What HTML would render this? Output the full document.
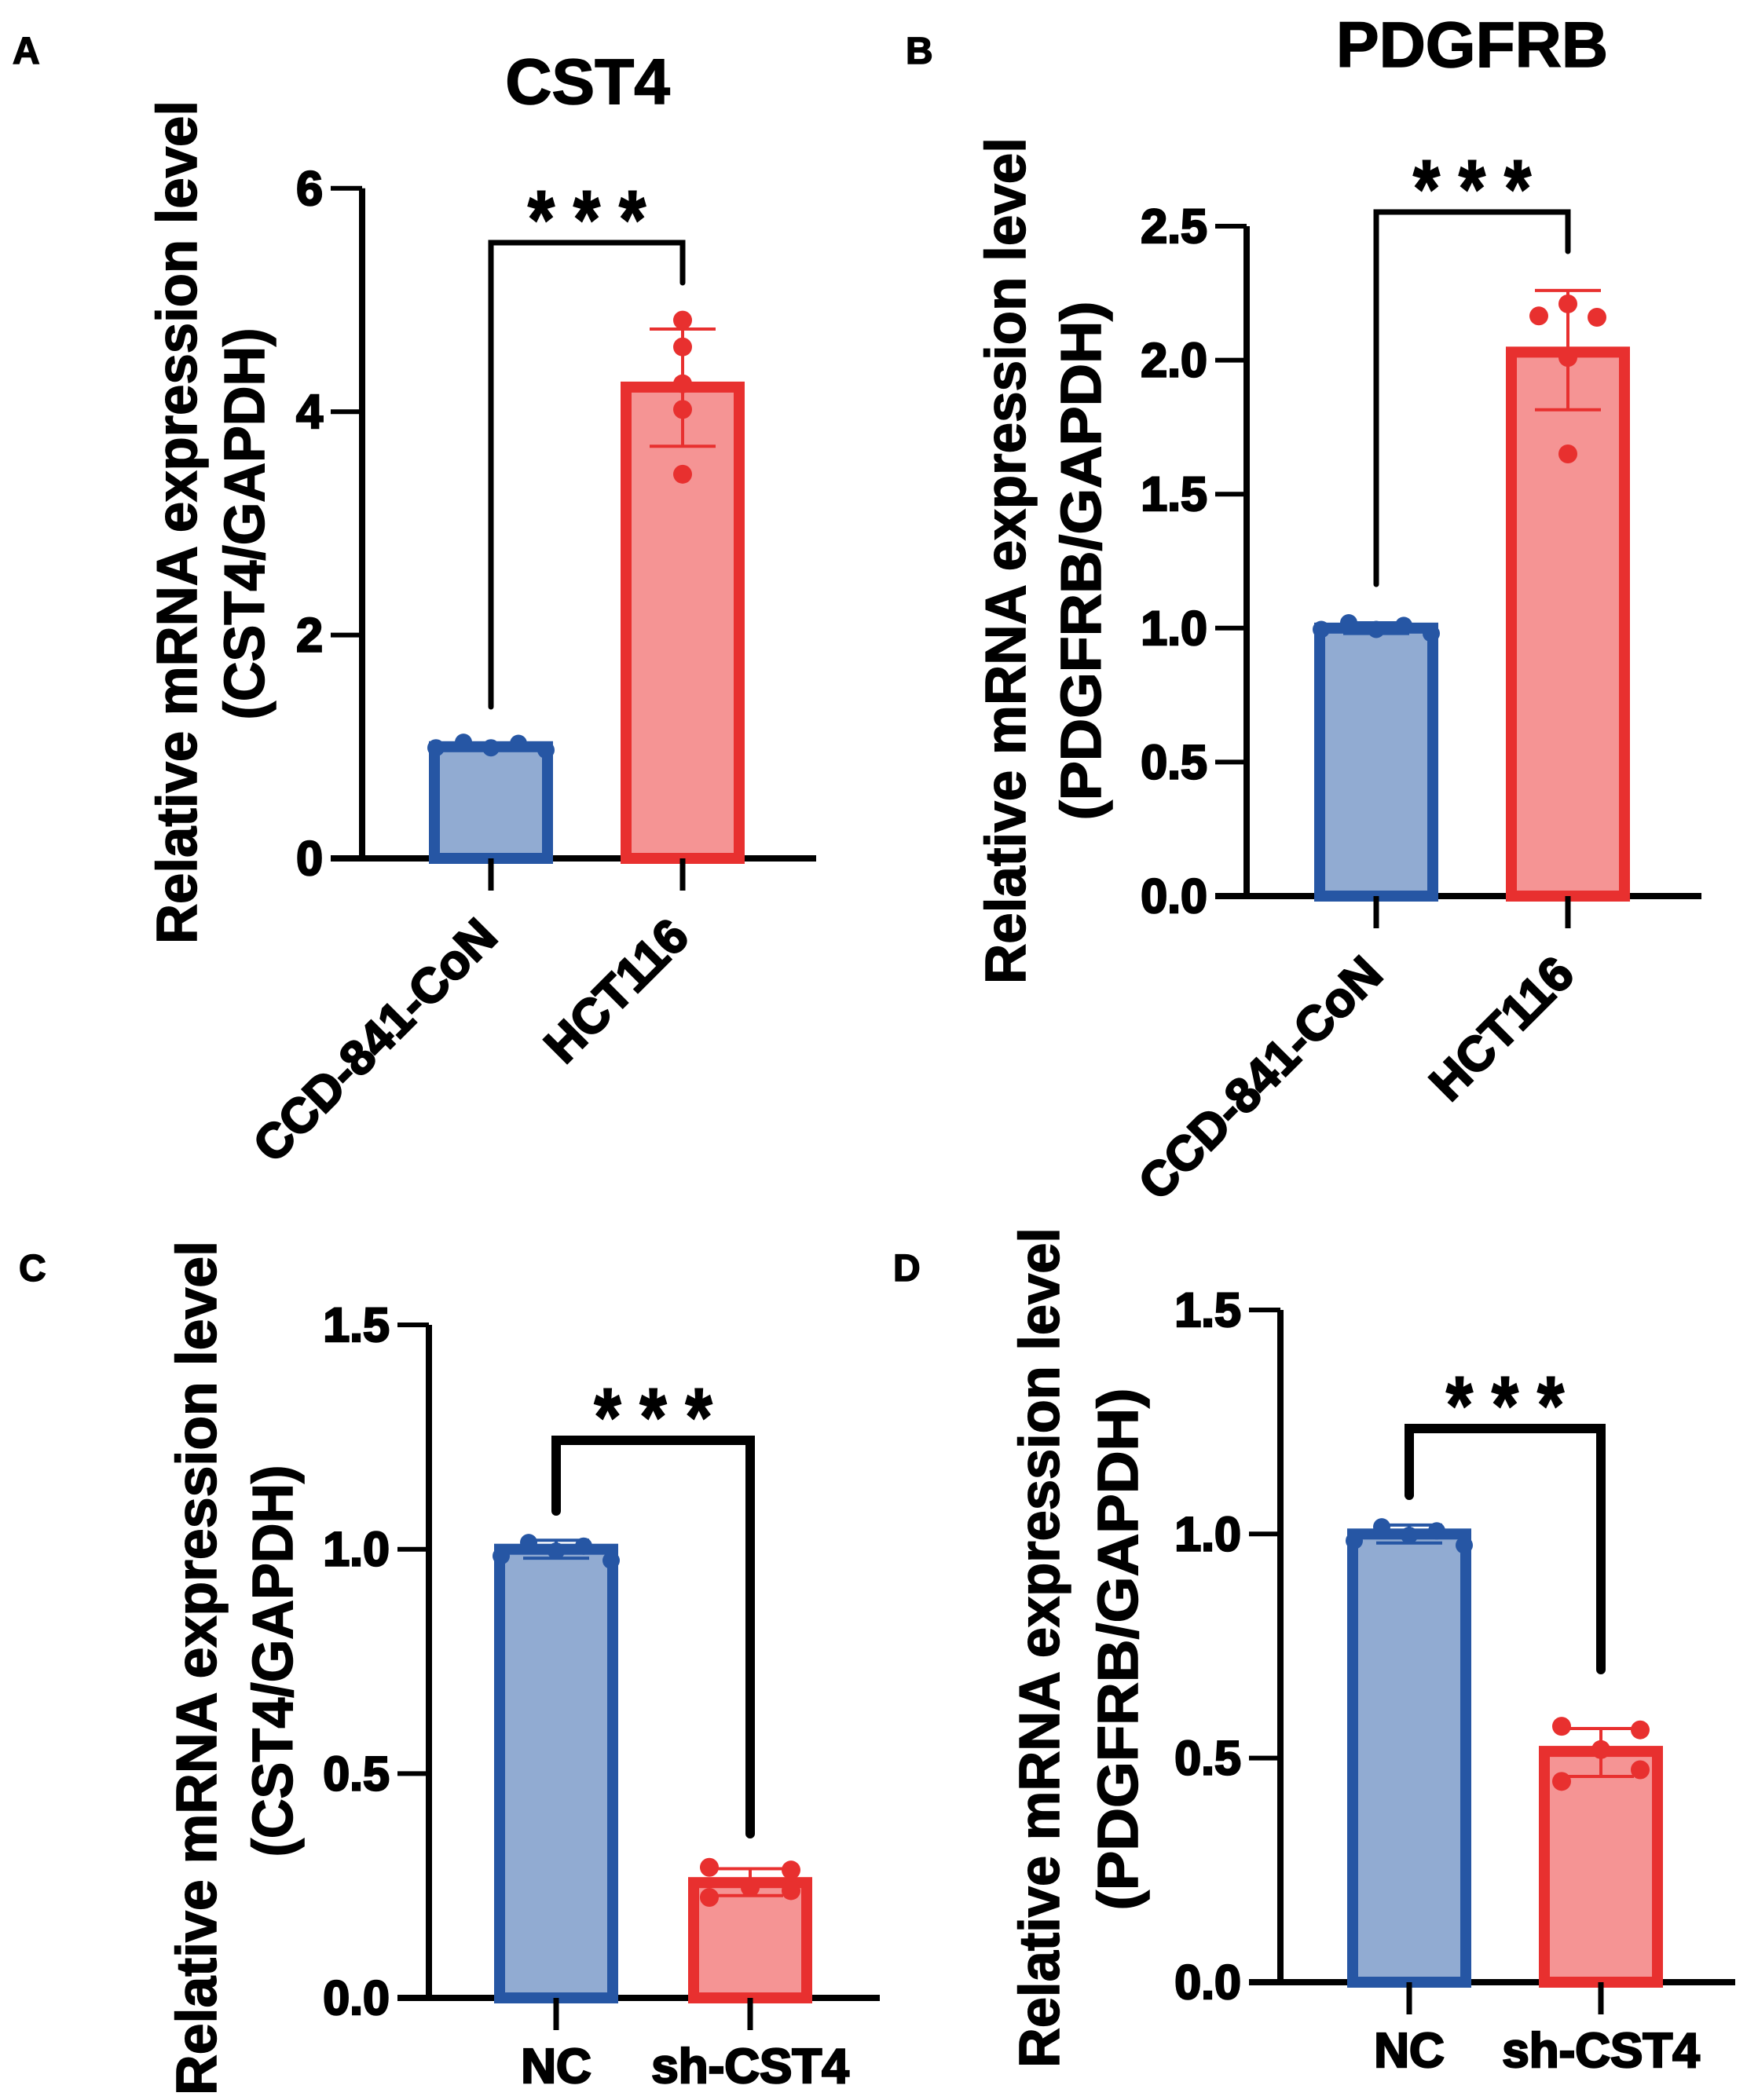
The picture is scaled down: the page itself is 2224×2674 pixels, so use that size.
<!DOCTYPE html>
<html><head><meta charset="utf-8"><style>
html,body{margin:0;padding:0;background:#fff;}
svg{display:block;font-family:"Liberation Sans",Arial,sans-serif;font-weight:bold;}
svg text{stroke:#000;stroke-width:1.5px;}
</style></head><body>
<svg id="fig" width="2224" height="2674" viewBox="0 0 2224 2674" xmlns="http://www.w3.org/2000/svg">
<rect x="0" y="0" width="2224" height="2674" fill="#fff"/>
<text x="16" y="81" font-size="48">A</text>
<text x="1153" y="81" font-size="48">B</text>
<text x="24" y="1631" font-size="48">C</text>
<text x="1137" y="1631" font-size="48">D</text>
<text x="748" y="132" font-size="82" text-anchor="middle">CST4</text>
<text x="1874" y="85" font-size="82" text-anchor="middle">PDGFRB</text>
</svg>
<script>
// ---------- data ----------
const catsAB = ['CCD-841-CoN', 'HCT116'];
const catsCD = ['NC', 'sh-CST4'];

const aMeans = [1.0, 4.22];
const aErrLow = [0.97, 3.69];
const aErrHigh = [1.03, 4.74];
const aPtsBlue = [0.99, 1.04, 0.99, 1.03, 0.97];
const aPtsRed = [4.82, 4.58, 4.25, 4.02, 3.44];
const aTicks = [0, 2, 4, 6];
const aTickLabels = ['0', '2', '4', '6'];

const bMeans = [1.0, 2.03];
const bErrLow = [0.98, 1.815];
const bErrHigh = [1.02, 2.26];
const bPtsBlue = [0.995, 1.02, 0.995, 1.01, 0.98];
const bPtsRed = [2.165, 2.21, 2.16, 2.01, 1.65];
const bTicks = [0, 0.5, 1.0, 1.5, 2.0, 2.5];
const bTickLabels = ['0.0', '0.5', '1.0', '1.5', '2.0', '2.5'];

const cMeans = [1.0, 0.257];
const cErrLow = [0.98, 0.228];
const cErrHigh = [1.02, 0.288];
const cPtsBlue = [0.985, 1.015, 0.996, 1.007, 0.975];
const cPtsRed = [0.291, 0.285, 0.246, 0.224, 0.239];
const cTicks = [0, 0.5, 1.0, 1.5];
const cTickLabels = ['0.0', '0.5', '1.0', '1.5'];

const dMeans = [1.0, 0.515];
const dErrLow = [0.98, 0.459];
const dErrHigh = [1.02, 0.566];
const dPtsBlue = [0.985, 1.016, 0.997, 1.007, 0.975];
const dPtsRed = [0.571, 0.563, 0.519, 0.474, 0.448];
const dTicks = [0, 0.5, 1.0, 1.5];
const dTickLabels = ['0.0', '0.5', '1.0', '1.5'];

// ---------- drawing ----------
const NS = 'http://www.w3.org/2000/svg';
const svg = document.getElementById('fig');
function mk(tag, attrs) {
  const e = document.createElementNS(NS, tag);
  for (const k in attrs) e.setAttribute(k, attrs[k]);
  svg.appendChild(e);
  return e;
}
const BLUE = '#2656a4', BLUEF = '#91abd2', RED = '#e8302f', REDF = '#f59494';

function drawPanel(p) {
  const yS = v => p.y0 - v * p.ppu;
  let e = mk('line', {x1: p.ax, y1: yS(p.ticks[p.ticks.length - 1]), x2: p.ax, y2: p.y0, stroke: '#000', 'stroke-width': 8});
  
  
  e = mk('line', {x1: p.ax - 40, y1: p.y0, x2: p.axEnd, y2: p.y0, stroke: '#000', 'stroke-width': 8});
  
  
  p.ticks.forEach((t, i) => {
    const y = yS(t);
    const tl = mk('line', {x1: p.ax - 40, y1: y, x2: p.ax, y2: y, stroke: '#000', 'stroke-width': 6});
    
    
    const tx = mk('text', {x: p.ax - 50, y: y + 21, 'font-size': 61, 'text-anchor': 'end', style: 'stroke-width:2.5px'});
    tx.textContent = p.tickLabels[i];
    
    
  });
  const fills = [BLUEF, REDF], strokes = [BLUE, RED];
  p.means.forEach((m, i) => {
    const cx = p.cx[i];
    const r = mk('rect', {x: cx - 72, y: yS(m), width: 144, height: p.y0 - yS(m), fill: fills[i], stroke: strokes[i], 'stroke-width': 14});
    
    
    const tk = mk('line', {x1: cx, y1: p.y0, x2: cx, y2: p.y0 + 41, stroke: '#000', 'stroke-width': 7});
    
    
    const yl = yS(p.errLow[i]), yh = yS(p.errHigh[i]);
    const eb = mk('path', {d: `M${cx} ${yl}V${yh}M${cx - 42} ${yh}H${cx + 42}M${cx - 42} ${yl}H${cx + 42}`, stroke: strokes[i], 'stroke-width': 4, fill: 'none'});
    
    
    let lab;
    if (p.rotated) {
      lab = mk('text', {x: 0, y: 0, 'font-size': 62, 'text-anchor': 'end', style: 'stroke-width:2.5px', transform: `translate(${cx + 11},${p.y0 + 103}) rotate(-45)`});
    } else {
      lab = mk('text', {x: cx, y: p.y0 + 108, 'font-size': 62, 'text-anchor': 'middle', style: 'stroke-width:2.5px'});
    }
    lab.textContent = p.cats[i];
    
    
  });
  p.ptsBlue.forEach((v, j) => {
    const c = mk('circle', {cx: p.cx[0] + p.blueOff[j], cy: yS(v), r: 11, fill: BLUE});
    
    
  });
  p.ptsRed.forEach((v, j) => {
    const c = mk('circle', {cx: p.cx[1] + p.redOff[j], cy: yS(v), r: 12, fill: RED});
    
    
  });
  const br = mk('path', {d: `M${p.cx[0]} ${p.brL}V${p.brTop}H${p.cx[1]}V${p.brR}`, stroke: '#000', 'stroke-width': p.brW, fill: 'none', 'stroke-linecap': 'round'});
  
  
  const st = mk('text', {x: (p.cx[0] + p.cx[1]) / 2, y: p.brTop + 6, 'font-size': 104, 'text-anchor': 'middle', textLength: 150, lengthAdjust: 'spacingAndGlyphs', style: 'stroke-width:2px'});
  st.textContent = '* * *';
  
  
  const t1 = mk('text', {x: 0, y: 0, 'font-size': 72, 'text-anchor': 'middle', textLength: p.l1.len, lengthAdjust: 'spacingAndGlyphs', transform: `translate(${p.l1.x},${p.l1.cy}) rotate(-90)`});
  t1.textContent = 'Relative mRNA expression level';
  
  
  const t2 = mk('text', {x: 0, y: 0, 'font-size': 72, 'text-anchor': 'middle', textLength: p.l2.len, lengthAdjust: 'spacingAndGlyphs', transform: `translate(${p.l2.x},${p.l2.cy}) rotate(-90)`});
  t2.textContent = p.l2.text;
  
  
}

const off5 = [-70, -35, 0, 35, 70];
drawPanel({id: 'panel-a', ax: 461, y0: 1093, ppu: 142.2, axEnd: 1039, cx: [625, 869], cats: catsAB, rotated: true,
  means: aMeans, errLow: aErrLow, errHigh: aErrHigh, ptsBlue: aPtsBlue, ptsRed: aPtsRed, ticks: aTicks, tickLabels: aTickLabels,
  blueOff: off5, redOff: [0, 0, 0, 0, 0], brTop: 309, brL: 900, brR: 360, brW: 7,
  l1: {x: 250, cy: 665, len: 1074}, l2: {x: 336, cy: 667, len: 499, text: '(CST4/GAPDH)'}});
drawPanel({id: 'panel-b', ax: 1587, y0: 1141, ppu: 341.2, axEnd: 2166, cx: [1752, 1996], cats: catsAB, rotated: true,
  means: bMeans, errLow: bErrLow, errHigh: bErrHigh, ptsBlue: bPtsBlue, ptsRed: bPtsRed, ticks: bTicks, tickLabels: bTickLabels,
  blueOff: off5, redOff: [-37, 0, 37, 0, 0], brTop: 270, brL: 744, brR: 320, brW: 7,
  l1: {x: 1305, cy: 714, len: 1078}, l2: {x: 1401, cy: 714, len: 661, text: '(PDGFRB/GAPDH)'}});
drawPanel({id: 'panel-c', ax: 546, y0: 2544, ppu: 571.3, axEnd: 1120, cx: [708, 955], cats: catsCD, rotated: false,
  means: cMeans, errLow: cErrLow, errHigh: cErrHigh, ptsBlue: cPtsBlue, ptsRed: cPtsRed, ticks: cTicks, tickLabels: cTickLabels,
  blueOff: off5, redOff: [-52, 52, 0, -52, 52], brTop: 1834, brL: 1924, brR: 2335, brW: 12,
  l1: {x: 275, cy: 2124, len: 1088}, l2: {x: 372, cy: 2115, len: 499, text: '(CST4/GAPDH)'}});
drawPanel({id: 'panel-d', ax: 1630, y0: 2524, ppu: 570.7, axEnd: 2209, cx: [1794, 2038], cats: catsCD, rotated: false,
  means: dMeans, errLow: dErrLow, errHigh: dErrHigh, ptsBlue: dPtsBlue, ptsRed: dPtsRed, ticks: dTicks, tickLabels: dTickLabels,
  blueOff: off5, redOff: [-50, 50, 0, 50, -50], brTop: 1819, brL: 1904, brR: 2126, brW: 12,
  l1: {x: 1348, cy: 2098, len: 1070}, l2: {x: 1448, cy: 2100, len: 665, text: '(PDGFRB/GAPDH)'}});
</script>
</body></html>
